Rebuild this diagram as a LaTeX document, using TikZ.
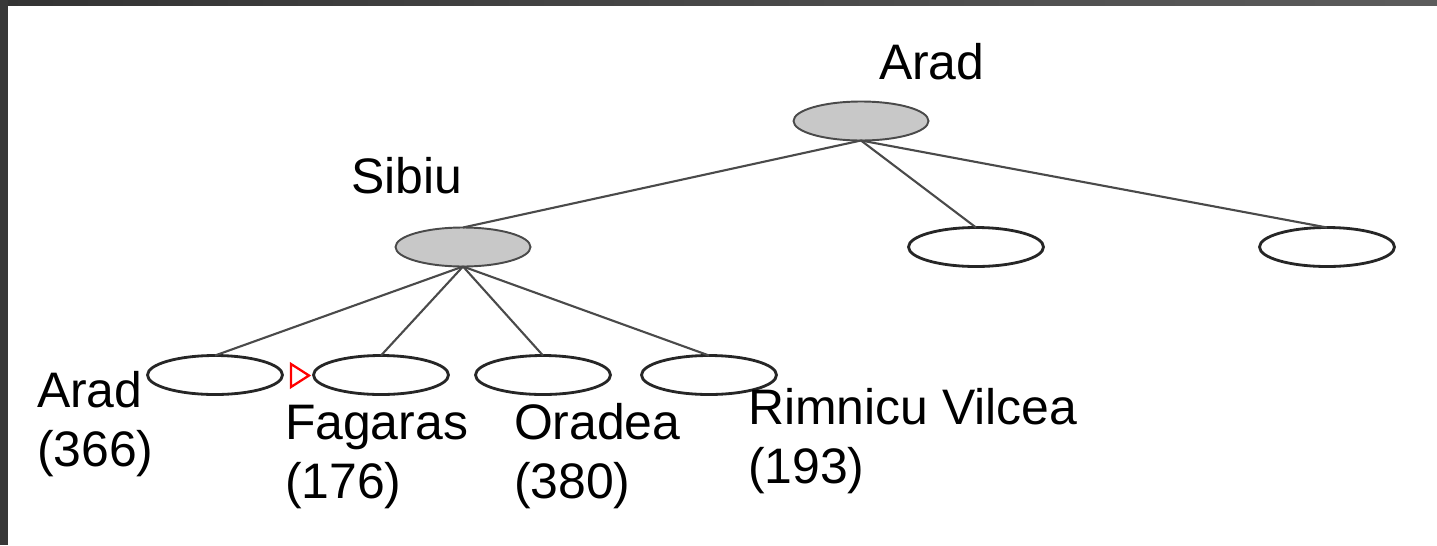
\documentclass[tikz,border=0pt]{standalone}
\usepackage{fontspec}
\setmainfont{Liberation Sans}
\usetikzlibrary{shapes.geometric}
\definecolor{frameA}{HTML}{333333}
\definecolor{frameB}{HTML}{5C5C5C}
\definecolor{frameL}{HTML}{383838}
\definecolor{nodegray}{HTML}{C8C8C8}
\definecolor{edgegray}{HTML}{4A4A4A}
\begin{document}
\begin{tikzpicture}[x=0.02cm,y=-0.02cm,
  every node/.style={inner sep=0pt, outer sep=0pt},
  expnode/.style={ellipse, draw=edgegray, fill=nodegray, line width=1.1pt,
    minimum width=2.7cm, minimum height=0.78cm},
  leafnode/.style={ellipse, draw=black!85, fill=white, line width=1.6pt,
    minimum width=2.7cm, minimum height=0.78cm},
  edge/.style={draw=edgegray, line width=1.2pt},
  lbl/.style={anchor=base west, align=left,
    font=\fontsize{28.4pt}{33.5pt}\selectfont}]
\useasboundingbox (0,0) rectangle (1437,545);
\fill[white] (0,0) rectangle (1437,545);
% frame
\shade[left color=frameA, right color=frameB] (0,0) rectangle (1437,5);
\fill[frameL] (0,0) rectangle (8,545);
% nodes
\node[expnode] (root) at (861,121) {};
\node[expnode] (sibiu) at (463,247) {};
\node[leafnode] (t) at (976,247) {};
\node[leafnode] (z) at (1327,247) {};
\node[leafnode] (arad) at (215,375) {};
\node[leafnode] (fag) at (381,375) {};
\node[leafnode] (ora) at (543,375) {};
\node[leafnode] (rim) at (709,375) {};
% edges
\draw[edge] (root.south) -- (sibiu.north);
\draw[edge] (root.south) -- (t.north);
\draw[edge] (root.south) -- (z.north);
\draw[edge] (sibiu.south) -- (arad.north);
\draw[edge] (sibiu.south) -- (fag.north);
\draw[edge] (sibiu.south) -- (ora.north);
\draw[edge] (sibiu.south) -- (rim.north);
% marker
\draw[red, line width=1.3pt, line join=miter] (291,364) -- (291,387) -- (309,375.5) -- cycle;
% labels (base anchor = baseline of the last line)
\node[lbl] (lroot) at (879,79) {Arad};
\node[lbl] (lsibiu) at (351,193) {Sibiu};
\node[lbl] (larad) at (37,466) {Arad\\(366)};
\node[lbl] (lfag) at (285,498) {Fagaras\\(176)};
\node[lbl] (lora) at (514,498) {Oradea\\(380)};
\node[lbl] (lrim) at (748,483) {Rimnicu Vilcea\\(193)};
\end{tikzpicture}
\end{document}
